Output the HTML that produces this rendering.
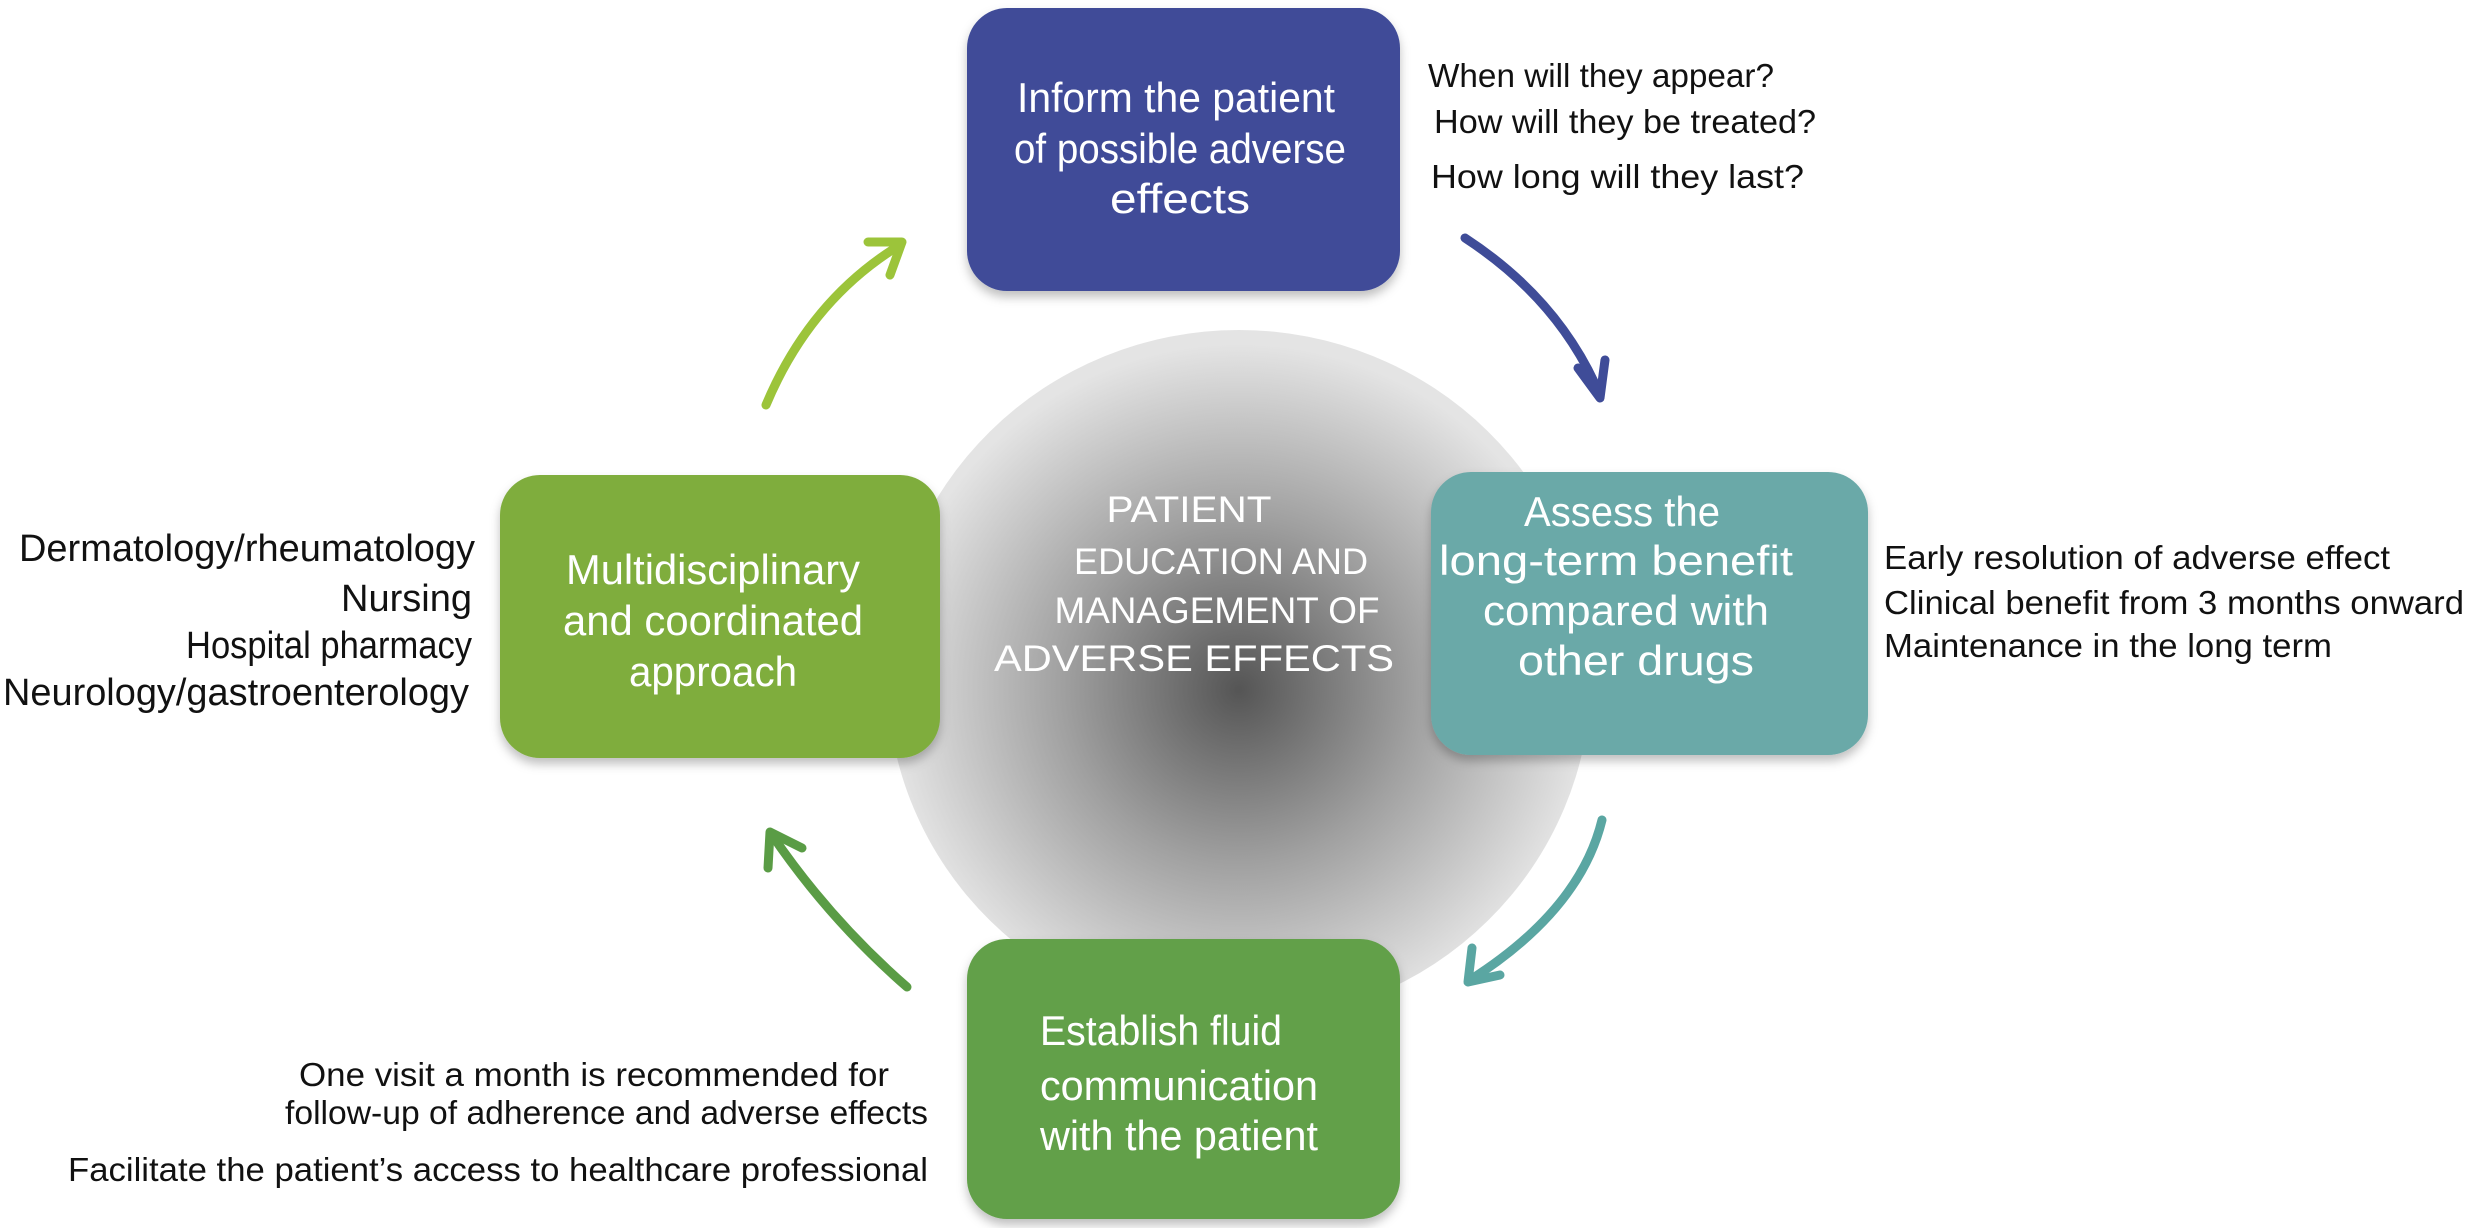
<!DOCTYPE html>
<html><head><meta charset="utf-8"><style>
html,body{margin:0;padding:0;background:#fff;}
svg{display:block;}
text{font-family:"Liberation Sans",sans-serif;}
</style></head><body>
<svg width="2466" height="1228" viewBox="0 0 2466 1228" xmlns="http://www.w3.org/2000/svg">
<defs>
<radialGradient id="cg" cx="0.5" cy="0.52" r="0.5">
<stop offset="0" stop-color="#555"/>
<stop offset="0.5" stop-color="#a0a0a0"/>
<stop offset="1" stop-color="#e4e4e4"/>
</radialGradient>
<filter id="sh" x="-10%" y="-10%" width="120%" height="125%"><feDropShadow dx="0" dy="6" stdDeviation="5" flood-color="#000" flood-opacity="0.25"/></filter>
</defs>
<ellipse cx="1239" cy="676" rx="352" ry="346" fill="url(#cg)"/>
<rect x="967" y="8" width="433" height="283" rx="40" fill="#3f4c98" filter="url(#sh)"/>
<rect x="1431" y="472" width="437" height="283" rx="40" fill="#6aa9a8" filter="url(#sh)"/>
<rect x="500" y="475" width="440" height="283" rx="40" fill="#7fad3e" filter="url(#sh)"/>
<rect x="967" y="939" width="433" height="280" rx="40" fill="#62a04a" filter="url(#sh)"/>

<g fill="#fff" font-size="42" text-anchor="middle">
<text x="1176" y="112" textLength="318" lengthAdjust="spacingAndGlyphs">Inform the patient</text>
<text x="1180" y="163" textLength="332" lengthAdjust="spacingAndGlyphs">of possible adverse</text>
<text x="1180" y="213" textLength="140" lengthAdjust="spacingAndGlyphs">effects</text>
<text x="1622" y="526" textLength="196" lengthAdjust="spacingAndGlyphs">Assess the</text>
<text x="1616" y="575" textLength="354" lengthAdjust="spacingAndGlyphs">long-term benefit</text>
<text x="1626" y="625" textLength="286" lengthAdjust="spacingAndGlyphs">compared with</text>
<text x="1636" y="675" textLength="236" lengthAdjust="spacingAndGlyphs">other drugs</text>
<text x="713" y="584" textLength="294" lengthAdjust="spacingAndGlyphs">Multidisciplinary</text>
<text x="713" y="635" textLength="300" lengthAdjust="spacingAndGlyphs">and coordinated</text>
<text x="713" y="686" textLength="168" lengthAdjust="spacingAndGlyphs">approach</text>
</g>
<g fill="#fff" font-size="42">
<text x="1040" y="1045" textLength="242" lengthAdjust="spacingAndGlyphs">Establish fluid</text>
<text x="1040" y="1100" textLength="278" lengthAdjust="spacingAndGlyphs">communication</text>
<text x="1040" y="1150" textLength="278" lengthAdjust="spacingAndGlyphs">with the patient</text>
</g>
<g fill="#fff" font-size="37" text-anchor="middle">
<text x="1189" y="522" textLength="165" lengthAdjust="spacingAndGlyphs">PATIENT</text>
<text x="1221" y="574" textLength="294" lengthAdjust="spacingAndGlyphs">EDUCATION AND</text>
<text x="1217" y="623" textLength="325" lengthAdjust="spacingAndGlyphs">MANAGEMENT OF</text>
<text x="1194" y="671" textLength="400" lengthAdjust="spacingAndGlyphs">ADVERSE EFFECTS</text>
</g>

<g fill="#111" font-size="33">
<text x="1428" y="87" textLength="346" lengthAdjust="spacingAndGlyphs">When will they appear?</text>
<text x="1434" y="133" textLength="382" lengthAdjust="spacingAndGlyphs">How will they be treated?</text>
<text x="1431" y="188" textLength="373" lengthAdjust="spacingAndGlyphs">How long will they last?</text>
<text x="1884" y="569" textLength="506" lengthAdjust="spacingAndGlyphs">Early resolution of adverse effect</text>
<text x="1884" y="614" textLength="580" lengthAdjust="spacingAndGlyphs">Clinical benefit from 3 months onward</text>
<text x="1884" y="657" textLength="448" lengthAdjust="spacingAndGlyphs">Maintenance in the long term</text>
<text x="299" y="1086" textLength="590" lengthAdjust="spacingAndGlyphs">One visit a month is recommended for</text>
<text x="285" y="1124" textLength="643" lengthAdjust="spacingAndGlyphs">follow-up of adherence and adverse effects</text>
<text x="68" y="1181" textLength="860" lengthAdjust="spacingAndGlyphs">Facilitate the patient’s access to healthcare professional</text>
</g>
<g fill="#111" font-size="38">
<text x="19" y="561" textLength="456" lengthAdjust="spacingAndGlyphs">Dermatology/rheumatology</text>
<text x="341" y="611" textLength="131" lengthAdjust="spacingAndGlyphs">Nursing</text>
<text x="186" y="658" textLength="286" lengthAdjust="spacingAndGlyphs">Hospital pharmacy</text>
<text x="3" y="705" textLength="466" lengthAdjust="spacingAndGlyphs">Neurology/gastroenterology</text>
</g>

<g fill="none" stroke-width="9" stroke-linecap="round" stroke-linejoin="round">
<path d="M766 405 Q810 300 900 245" stroke="#9cc43a"/>
<path d="M868 242 L902 242 L890 275" stroke="#9cc43a"/>
<path d="M1465 238 Q1560 300 1600 395" stroke="#3f4c98"/>
<path d="M1578 368 L1600 398 L1605 360" stroke="#3f4c98"/>
<path d="M1602 820 Q1580 910 1470 980" stroke="#5aa6a2"/>
<path d="M1472 948 L1468 982 L1500 975" stroke="#5aa6a2"/>
<path d="M907 987 Q830 920 772 835" stroke="#5a9c45"/>
<path d="M768 868 L770 832 L802 848" stroke="#5a9c45"/>
</g>
</svg>
</body></html>
